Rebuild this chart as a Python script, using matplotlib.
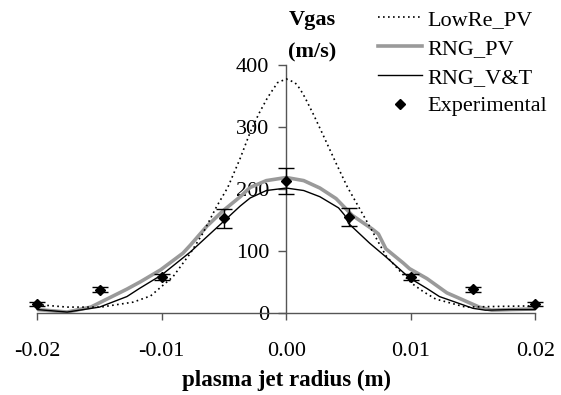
import matplotlib
matplotlib.use("Agg")
import matplotlib.pyplot as plt
from matplotlib.lines import Line2D

plt.rcParams['font.family'] = ['Liberation Serif', 'DejaVu Serif']

# Gas velocity profiles across the plasma jet radius
lowre_x = [-0.020, -0.0176, -0.0149, -0.0123, -0.0109, -0.0091, -0.0077, -0.0067,
           -0.0056, -0.0047, -0.0037, -0.0029, -0.0022, -0.0015, -0.0007, 0.0,
           0.0007, 0.0011, 0.0015, 0.0022, 0.0029, 0.0040, 0.0049, 0.0058, 0.0067,
           0.0080, 0.0094, 0.0101, 0.0110, 0.0120, 0.0144, 0.0168, 0.020]
lowre_y = [14, 10, 10, 18, 28, 59, 97, 129, 172, 203, 250, 292, 322, 348, 372, 378,
           372, 362, 348, 320, 290, 242, 204, 172, 140, 93, 62, 48, 35, 23, 10, 11, 12]

rngpv_x = [-0.020, -0.0176, -0.0157, -0.0128, -0.0117, -0.0101, -0.0083, -0.0077,
           -0.0064, -0.0051, -0.0037, -0.0029, -0.0016, 0.0, 0.0014, 0.0027, 0.0040,
           0.0053, 0.0069, 0.0074, 0.0080, 0.0094, 0.0099, 0.0113, 0.0129, 0.0155,
           0.0165, 0.018, 0.020]
rngpv_y = [6, 2, 10, 39, 51, 70, 97, 110, 140, 165, 188, 203, 214, 219, 214, 202, 185,
           158, 136, 128, 104, 81, 72, 56, 33, 10, 5, 6, 7]

rngvt_x = [-0.020, -0.0176, -0.0150, -0.0128, -0.0118, -0.0100, -0.0077, -0.0064,
           -0.0051, -0.0037, -0.0029, -0.0016, 0.0, 0.0014, 0.0027, 0.0042, 0.0047,
           0.0050, 0.0067, 0.0080, 0.0099, 0.0113, 0.0123, 0.0150, 0.0160, 0.018,
           0.020]
rngvt_y = [6, 2, 10, 27, 40, 62, 99, 123, 147, 173, 186, 198, 202, 198, 188, 170,
           158, 145, 113, 91, 57, 40, 27, 8, 5, 6, 6]

exp_x = [-0.020, -0.015, -0.010, -0.005, 0.0, 0.005, 0.010, 0.015, 0.020]
exp_y = [15, 38, 58, 153, 214, 155, 59, 39, 15]
exp_err = [4, 4, 5, 15, 21, 15, 5, 4, 4]

x_ticks = [-0.02, -0.01, 0.0, 0.01, 0.02]
x_tick_labels = ['-0.02', '-0.01', '0.00', '0.01', '0.02']
y_ticks = [0, 100, 200, 300, 400]

fig = plt.figure(figsize=(5.61, 3.95), dpi=100)
ax = fig.add_axes([0.0443, 0.199, 0.932, 0.6436])
ax.set_xlim(-0.021, 0.021)
ax.set_ylim(-5, 405)

ax.plot(lowre_x, lowre_y, color='black', lw=1.2, ls=(0, (1, 2)), zorder=3)
ax.plot(rngpv_x, rngpv_y, color='#9a9a9a', lw=2.6, solid_capstyle='butt', zorder=2)
ax.plot(rngvt_x, rngvt_y, color='black', lw=1.0, zorder=4)
ax.errorbar(exp_x, exp_y, yerr=exp_err, fmt='D', color='black', ms=5,
            ecolor='black', elinewidth=1.0, capsize=5.5, capthick=1.0,
            zorder=5, clip_on=False)

for s in ['top', 'right']:
    ax.spines[s].set_visible(False)
ax.spines['left'].set_position(('data', 0))
ax.spines['bottom'].set_position(('data', 0))
ax.spines['left'].set_bounds(0, 400)
ax.spines['bottom'].set_bounds(-0.02, 0.02)
for s in ['left', 'bottom']:
    ax.spines[s].set_color('#555555')
    ax.spines[s].set_linewidth(1.0)

ax.set_xticks(x_ticks)
ax.set_xticklabels(x_tick_labels)
ax.set_yticks(y_ticks)
ax.tick_params(axis='x', direction='out', length=4.8, width=1.0, color='#555555',
               pad=16, labelsize=16)
ax.tick_params(axis='y', direction='out', length=5.8, width=1.0, color='#555555',
               pad=6.5, labelsize=16)

fig.text(312 / 561, 1 - 20 / 395, 'Vgas', ha='center', va='center',
         fontsize=16, fontweight='bold')
fig.text(312 / 561, 1 - 52 / 395, '(m/s)', ha='center', va='center',
         fontsize=16, fontweight='bold')
fig.text(287 / 561, 1 - 380 / 395, 'plasma jet radius (m)', ha='center', va='center',
         fontsize=16.5, fontweight='bold')

handles = [
    Line2D([], [], color='black', lw=1.2, ls=(0, (1, 2))),
    Line2D([], [], color='#9a9a9a', lw=2.6),
    Line2D([], [], color='black', lw=1.0),
    Line2D([], [], color='black', marker='D', ms=5, ls='none'),
]
labels = ['LowRe_PV', 'RNG_PV', 'RNG_V&T', 'Experimental']
fig.legend(handles, labels, loc='upper left', bbox_to_anchor=(378 / 561, 1 - 9.5 / 395),
           frameon=False, fontsize=16, handlelength=2.0, handletextpad=0.2,
           labelspacing=0.37, borderpad=0, borderaxespad=0)

fig.savefig('out.png', dpi=100)
